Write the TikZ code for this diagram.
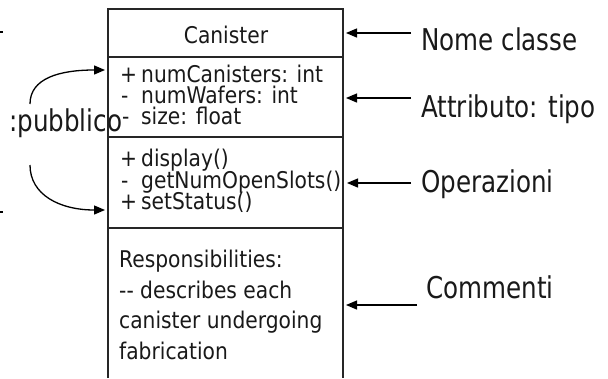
\documentclass[tikz,border=0pt]{standalone}
\usepackage{fontspec}
\setmainfont{DejaVu Sans}
\newfontfamily\boxfont{DejaVu Sans}[FakeStretch=0.88]
\newfontfamily\lblfont{DejaVu Sans}[FakeStretch=0.82]
\usetikzlibrary{arrows.meta}
\begin{document}
\begin{tikzpicture}[x=1pt,y=-1pt,
  boxline/.style={line width=1.5pt, draw=black!85},
  ptr/.style={line width=1.3pt, -{Triangle[length=11pt,width=9pt]}},
  boxtxt/.style={anchor=base west, inner sep=0pt, text=black!90, font=\boxfont\fontsize{23}{27}\selectfont},
  boxtitle/.style={anchor=base, inner sep=0pt, text=black!90, font=\boxfont\fontsize{23}{27}\selectfont},
  lbl/.style={anchor=base west, inner sep=0pt, text=black!90, font=\lblfont\fontsize{30}{36}\selectfont}]
\useasboundingbox (0,0) rectangle (608,378);
% class box (open at the bottom)
\coordinate (bl) at (108,378);
\coordinate (tl) at (108,9);
\coordinate (tr) at (343,9);
\coordinate (br) at (343,378);
\draw[boxline] (bl) -- (tl) -- (tr) -- (br);
\coordinate (d1l) at (108,57);  \coordinate (d1r) at (343,57);
\coordinate (d2l) at (108,137); \coordinate (d2r) at (343,137);
\coordinate (d3l) at (108,228); \coordinate (d3r) at (343,228);
\draw[boxline] (d1l) -- (d1r);
\draw[boxline] (d2l) -- (d2r);
\draw[boxline] (d3l) -- (d3r);
% title
\node[boxtitle] (title) at (226,43) {Canister};
% attributes
\node[boxtxt] (s1) at (120,82) {+};
\node[boxtxt] (a1) at (141,82) {numCanisters: int};
\node[boxtxt] (s2) at (121,103) {-};
\node[boxtxt] (a2) at (141,103) {numWafers: int};
\node[boxtxt] (s3) at (122,124) {-};
\node[boxtxt] (a3) at (141,124) {size: float};
% operations
\node[boxtxt] (s4) at (120,166) {+};
\node[boxtxt] (o1) at (141,166) {display()};
\node[boxtxt] (s5) at (121,188) {-};
\node[boxtxt] (o2) at (141,188) {getNumOpenSlots()};
\node[boxtxt] (s6) at (120,209) {+};
\node[boxtxt] (o3) at (141,209) {setStatus()};
% responsibilities
\node[boxtxt] (r1) at (119,267) {Responsibilities:};
\node[boxtxt] (r2) at (119,298) {-- describes each};
\node[boxtxt] (r3) at (119,328) {canister undergoing};
\node[boxtxt] (r4) at (119,359) {fabrication};
% right labels
\node[lbl] (lnome) at (421,50) {Nome classe};
\node[lbl] (lattr) at (421,117) {Attributo: tipo};
\node[lbl] (lop) at (421,192) {Operazioni};
\node[lbl] (lcom) at (426,298) {Commenti};
\coordinate (nomeT) at (411,33);  \coordinate (nomeH) at (346,33);
\coordinate (attrT) at (411,98);  \coordinate (attrH) at (346,98);
\coordinate (opT) at (411,183);   \coordinate (opH) at (347,183);
\coordinate (comT) at (417,305);  \coordinate (comH) at (346,305);
\draw[ptr] (nomeT) -- (nomeH);
\draw[ptr] (attrT) -- (attrH);
\draw[ptr] (opT) -- (opH);
\draw[ptr] (comT) -- (comH);
% left label and curved arrows
\node[lbl] (pub) at (9,131) {:pubblico};
\coordinate (upS) at (30,104); \coordinate (upH) at (105,70);
\coordinate (loS) at (30,165); \coordinate (loH) at (105,210);
\draw[ptr] (upS) .. controls (30,78) and (60,70) .. (upH);
\draw[ptr] (loS) .. controls (30,195) and (60,210) .. (loH);
% stray marks at the left edge
\coordinate (m1a) at (0,32); \coordinate (m1b) at (2.5,32);
\coordinate (m2a) at (0,212); \coordinate (m2b) at (2.5,212);
\draw[line width=1.4pt] (m1a) -- (m1b);
\draw[line width=1.4pt] (m2a) -- (m2b);
\end{tikzpicture}
\end{document}
